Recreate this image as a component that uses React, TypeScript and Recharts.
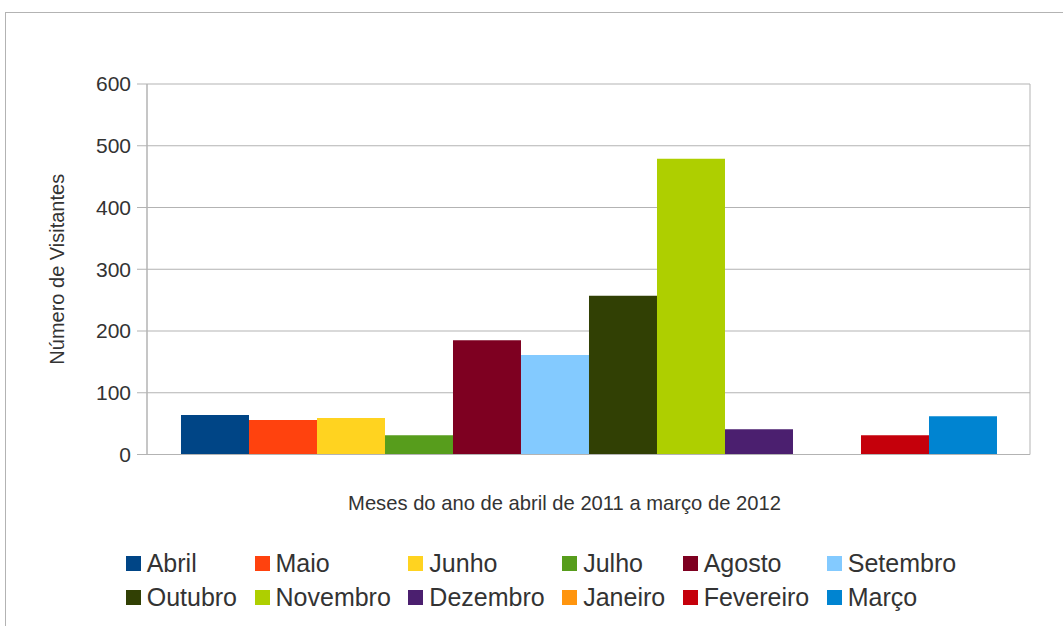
import React from 'react'
import { BarChart, Bar, XAxis, YAxis, CartesianGrid, Legend, Label } from 'recharts'

const months = ['Abril', 'Maio', 'Junho', 'Julho', 'Agosto', 'Setembro', 'Outubro', 'Novembro', 'Dezembro', 'Janeiro', 'Fevereiro', 'Março']
const visitors = [64, 56, 59, 31, 185, 161, 257, 479, 41, 0, 31, 62]
const colors = ['#004586', '#ff420e', '#ffd320', '#579d1c', '#7e0021', '#83caff', '#314004', '#aecf00', '#4b1f6f', '#ff950e', '#c5000b', '#0084d1']
const yTicks = [0, 100, 200, 300, 400, 500, 600]

const row: Record<string, string | number> = { name: 'Visitantes' }
months.forEach((m, i) => {
  row[m] = visitors[i]
})
const data = [row]

const font = '"Liberation Sans", Arial, sans-serif'
const textColor = '#333333'
const lineColor = '#b3b3b3'

const renderLegend = (props: any) => {
  const { payload = [] } = props
  // keep the series order (recharts sorts legend items by name)
  const items = [...payload].sort((a: any, b: any) => months.indexOf(a.value) - months.indexOf(b.value))
  return (
    <div
      style={{
        display: 'grid',
        gridTemplateColumns: 'repeat(6, auto)',
        justifyContent: 'start',
        columnGap: 17.5,
        paddingLeft: 125.7,
        fontFamily: font,
        fontSize: 25,
        color: textColor
      }}
    >
      {items.map((entry: any) => (
        <div key={entry.value} style={{ display: 'flex', alignItems: 'center', height: 34, whiteSpace: 'nowrap' }}>
          <span style={{ width: 15, height: 15, background: entry.color, marginRight: 6, flexShrink: 0 }} />
          <span>{entry.value}</span>
        </div>
      ))}
    </div>
  )
}

const App: React.FC = () => {
  return (
    <div style={{ position: 'absolute', left: 0, top: 0, width: 1063, height: 626, overflow: 'hidden', background: '#fff' }}>
      <div
        style={{
          position: 'absolute',
          left: 5,
          top: 12,
          width: 1200,
          height: 800,
          borderLeft: `1px solid ${lineColor}`,
          borderTop: `1px solid ${lineColor}`
        }}
      />
      <BarChart
        width={1063}
        height={626}
        data={data}
        margin={{ top: 84, right: 33, left: 0, bottom: 111.5 }}
        barGap={0}
        barCategoryGap="3.85%"
        style={{ fontFamily: font }}
      >
        <CartesianGrid
          stroke={lineColor}
          verticalCoordinatesGenerator={({ offset }: any) => [offset.left, offset.left + offset.width]}
        />
        <XAxis dataKey="name" tick={false} tickLine={false} height={60} axisLine={{ stroke: lineColor }}>
          <Label
            value="Meses do ano de abril de 2011 a março de 2012"
            position="insideTop"
            offset={41}
            dx={-24}
            fill={textColor}
            fontSize={20.2}
          />
        </XAxis>
        <YAxis
          width={147}
          domain={[0, 600]}
          ticks={yTicks}
          interval={0}
          tickSize={10}
          tickMargin={6}
          axisLine={{ stroke: lineColor }}
          tickLine={{ stroke: lineColor }}
          tick={{ fill: textColor, fontSize: 21 }}
        >
          <Label
            value="Número de Visitantes"
            angle={-90}
            position="insideLeft"
            offset={57}
            textAnchor="middle"
            fill={textColor}
            fontSize={20}
          />
        </YAxis>
        <Legend
          layout="horizontal"
          verticalAlign="middle"
          align="center"
          content={renderLegend}
          wrapperStyle={{ top: 546, left: 0, width: 1063 }}
        />
        {months.map((m, i) => (
          <Bar key={m} dataKey={m} fill={colors[i]} isAnimationActive={false} />
        ))}
      </BarChart>
    </div>
  )
}

export default App
